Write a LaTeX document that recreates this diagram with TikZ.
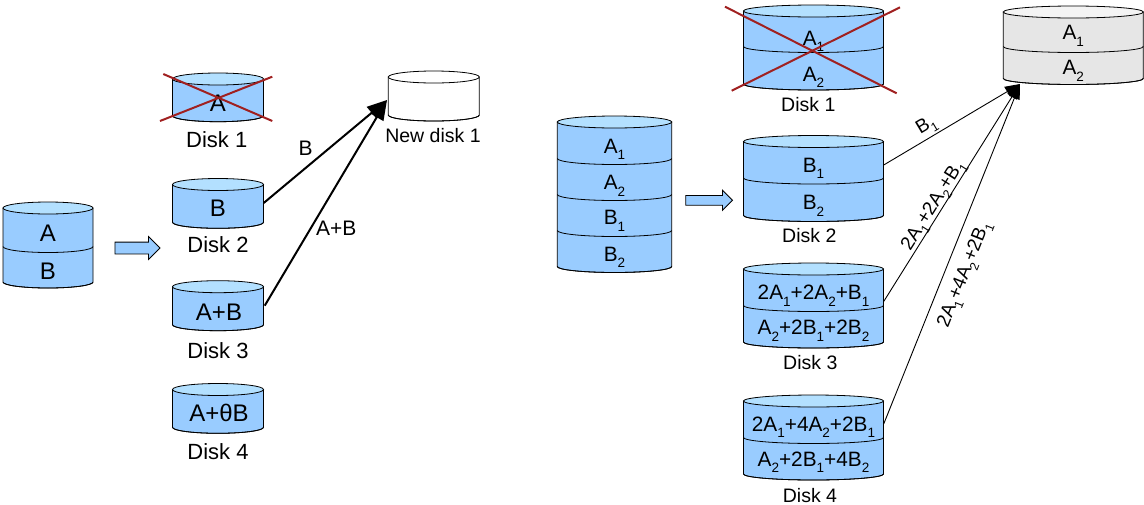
\documentclass[tikz,border=0pt]{standalone}
\usepackage{fontspec}
\setmainfont{Liberation Sans}
\usetikzlibrary{shapes.arrows,arrows.meta}

\definecolor{diskbody}{HTML}{99CCFF}
\definecolor{disktop}{HTML}{B3E0FF}
\definecolor{sparebody}{HTML}{E6E6E6}
\definecolor{sparetop}{HTML}{F4F4F4}
\definecolor{crossred}{RGB}{160,32,32}

\newcommand\sbs[1]{\raisebox{-0.3em}{\scalebox{0.65}{#1}}}
% #1 body, #2 top, #3 centre x, #4 half width, #5 top y, #6 bottom y, #7 layer ends
\newcommand\drawdisk[7]{%
  \filldraw[disk, fill=#1] (#3-#4,#5) -- (#3-#4,#6)
    arc[start angle=180, end angle=360, x radius=#4pt, y radius=6pt]
    -- (#3+#4,#5) -- cycle;
  \filldraw[disk, fill=#2] (#3,#5) ellipse[x radius=#4pt, y radius=6pt];
  \foreach \yy in {#7}
    \draw[disk] (#3-#4,\yy) arc[start angle=180, end angle=360, x radius=#4pt, y radius=6pt];
}

\tikzset{
  disk/.style={draw=black, line width=0.8pt},
  lblL/.style={font=\fontsize{24}{28}\selectfont, text height=17pt, text depth=0pt, inner sep=1pt, minimum width=91pt},
  lblR/.style={font=\fontsize{20.8}{24}\selectfont, text height=14.9pt, text depth=0pt, inner sep=1pt, minimum width=140pt},
  nameL/.style={font=\fontsize{22}{26}\selectfont, text height=15.8pt, text depth=0pt, inner sep=1pt},
  nameR/.style={font=\fontsize{19.5}{23}\selectfont, text height=14pt, text depth=0pt, inner sep=1pt},
  edgeL/.style={font=\fontsize{21}{25}\selectfont, text height=15pt, text depth=0pt, inner sep=1pt},
  edgeR/.style={font=\fontsize{19}{22}\selectfont, text height=13.6pt, text depth=0pt, inner sep=1pt, sloped},
  hollow/.style={single arrow, draw=black, line width=0.8pt, fill=diskbody, inner xsep=0pt},
  cross/.style={draw=crossred, line width=2pt},
  bigarrow/.style={line width=2pt, -{Triangle[length=20pt,width=15pt]}},
  thinarrow/.style={line width=0.9pt, -{Triangle[length=15pt,width=11pt]}}
}

\begin{document}
\begin{tikzpicture}[x=1pt, y=-1pt]
\useasboundingbox (0,0) rectangle (1144,504);

% left half: two blocks
\drawdisk{diskbody}{disktop}{48}{45}{208}{282}{246.5,282}
\node[lblL, minimum width=90pt] (oa) at (48,233) {A};
\node[lblL, minimum width=90pt] (ob) at (48,271) {B};
\node[hollow, minimum height=45pt, inner ysep=5.5pt, single arrow head extend=5.5pt] (splitL) at (134.5,248) {};

\drawdisk{diskbody}{disktop}{218}{45.5}{79}{115.7}{115.7}
\drawdisk{diskbody}{disktop}{218}{45.5}{184.5}{222.3}{222.3}
\drawdisk{diskbody}{disktop}{218}{45.5}{286.7}{324.7}{324.7}
\drawdisk{diskbody}{disktop}{218}{45.5}{389.5}{427.3}{427.3}
\drawdisk{white}{white}{433.8}{45.5}{77}{115}{115}

\node[lblL] (l1) at (218,102.5) {A};
\node[lblL] (l2) at (218,208) {B};
\node[lblL] (l3) at (219,311.7) {A+B};
\node[lblL] (l4) at (219,413.3) {A+θB};
\draw[cross] (160,121) -- (272.3,76.7);
\draw[cross] (163.3,74) -- (272.3,121);

\node[nameL] (n1) at (216.7,139.5) {Disk 1};
\node[nameL] (n2) at (218,244.7) {Disk 2};
\node[nameL] (n3) at (218,350.5) {Disk 3};
\node[nameL] (n4) at (218,451.3) {Disk 4};
\node[nameR] (nn) at (433,135.5) {New disk 1};

\coordinate (tipL) at (387,100);
\draw[bigarrow] ([yshift=5pt]l2.east) -- node[edgeL, pos=0.34, above=10pt] {B} (tipL);
\draw[bigarrow] ([yshift=6pt]l3.east) -- node[edgeL, pos=0.38, right=3pt] {A+B} (tipL);

% right half: four blocks
\drawdisk{diskbody}{disktop}{614.5}{57.2}{122}{266.5}{158.5,194.5,230.5,266.5}
\node[lblR, minimum width=114pt] (oa1) at (614.5,145.8) {A\sbs1};
\node[lblR, minimum width=114pt] (oa2) at (614.5,182.5) {A\sbs2};
\node[lblR, minimum width=114pt] (ob1) at (614.5,217.5) {B\sbs1};
\node[lblR, minimum width=114pt] (ob2) at (614.5,254) {B\sbs2};
\node[hollow, minimum height=46.7pt, inner ysep=4.5pt, single arrow head extend=5.2pt] (splitR) at (706.7,200.3) {};

\drawdisk{diskbody}{disktop}{813.5}{70}{11}{84}{46.5,84}
\drawdisk{diskbody}{disktop}{813.5}{70}{141.5}{215.5}{178,215.5}
\drawdisk{diskbody}{disktop}{813.5}{70}{269}{342}{305.5,342}
\drawdisk{diskbody}{disktop}{813.5}{70}{401}{474}{437.5,474}
\drawdisk{sparebody}{sparetop}{1073.3}{70}{12}{78.5}{46.5,78.5}

\node[lblR] (r1a) at (813.5,38) {A\sbs1};
\node[lblR] (r1b) at (813.5,74) {A\sbs2};
\node[lblR] (r2a) at (813.5,165) {B\sbs1};
\node[lblR] (r2b) at (813.5,202.5) {B\sbs2};
\node[lblR] (r3a) at (813.5,292.5) {2A\sbs1+2A\sbs2+B\sbs1};
\node[lblR] (r3b) at (813.5,327.5) {A\sbs2+2B\sbs1+2B\sbs2};
\node[lblR] (r4a) at (813.5,424) {2A\sbs1+4A\sbs2+2B\sbs1};
\node[lblR] (r4b) at (813.5,459) {A\sbs2+2B\sbs1+4B\sbs2};
\node[lblR] (s1) at (1073.3,32.5) {A\sbs1};
\node[lblR] (s2) at (1073.3,67.5) {A\sbs2};
\draw[cross] (725,6.7) -- (896.7,93.3);
\draw[cross] (731.7,90.7) -- (900,7.3);

\node[nameR] (m1) at (808.3,104) {Disk 1};
\node[nameR] (m2) at (809.3,235) {Disk 2};
\node[nameR] (m3) at (810.3,362.5) {Disk 3};
\node[nameR] (m4) at (810,495) {Disk 4};

\coordinate (tipR) at (1020,84);
\draw[thinarrow] (r2a.east) -- node[edgeR, pos=0.36, above=6.3pt] {B\sbs1} (tipR);
\draw[thinarrow] ([yshift=-9pt]r3a.east) -- node[edgeR, pos=0.42, above=2.8pt] {2A\sbs1+2A\sbs2+B\sbs1} (tipR);
\draw[thinarrow] (r4a.east) -- node[edgeR, pos=0.46, below=9pt] {2A\sbs1+4A\sbs2+2B\sbs1} (tipR);
\end{tikzpicture}
\end{document}
